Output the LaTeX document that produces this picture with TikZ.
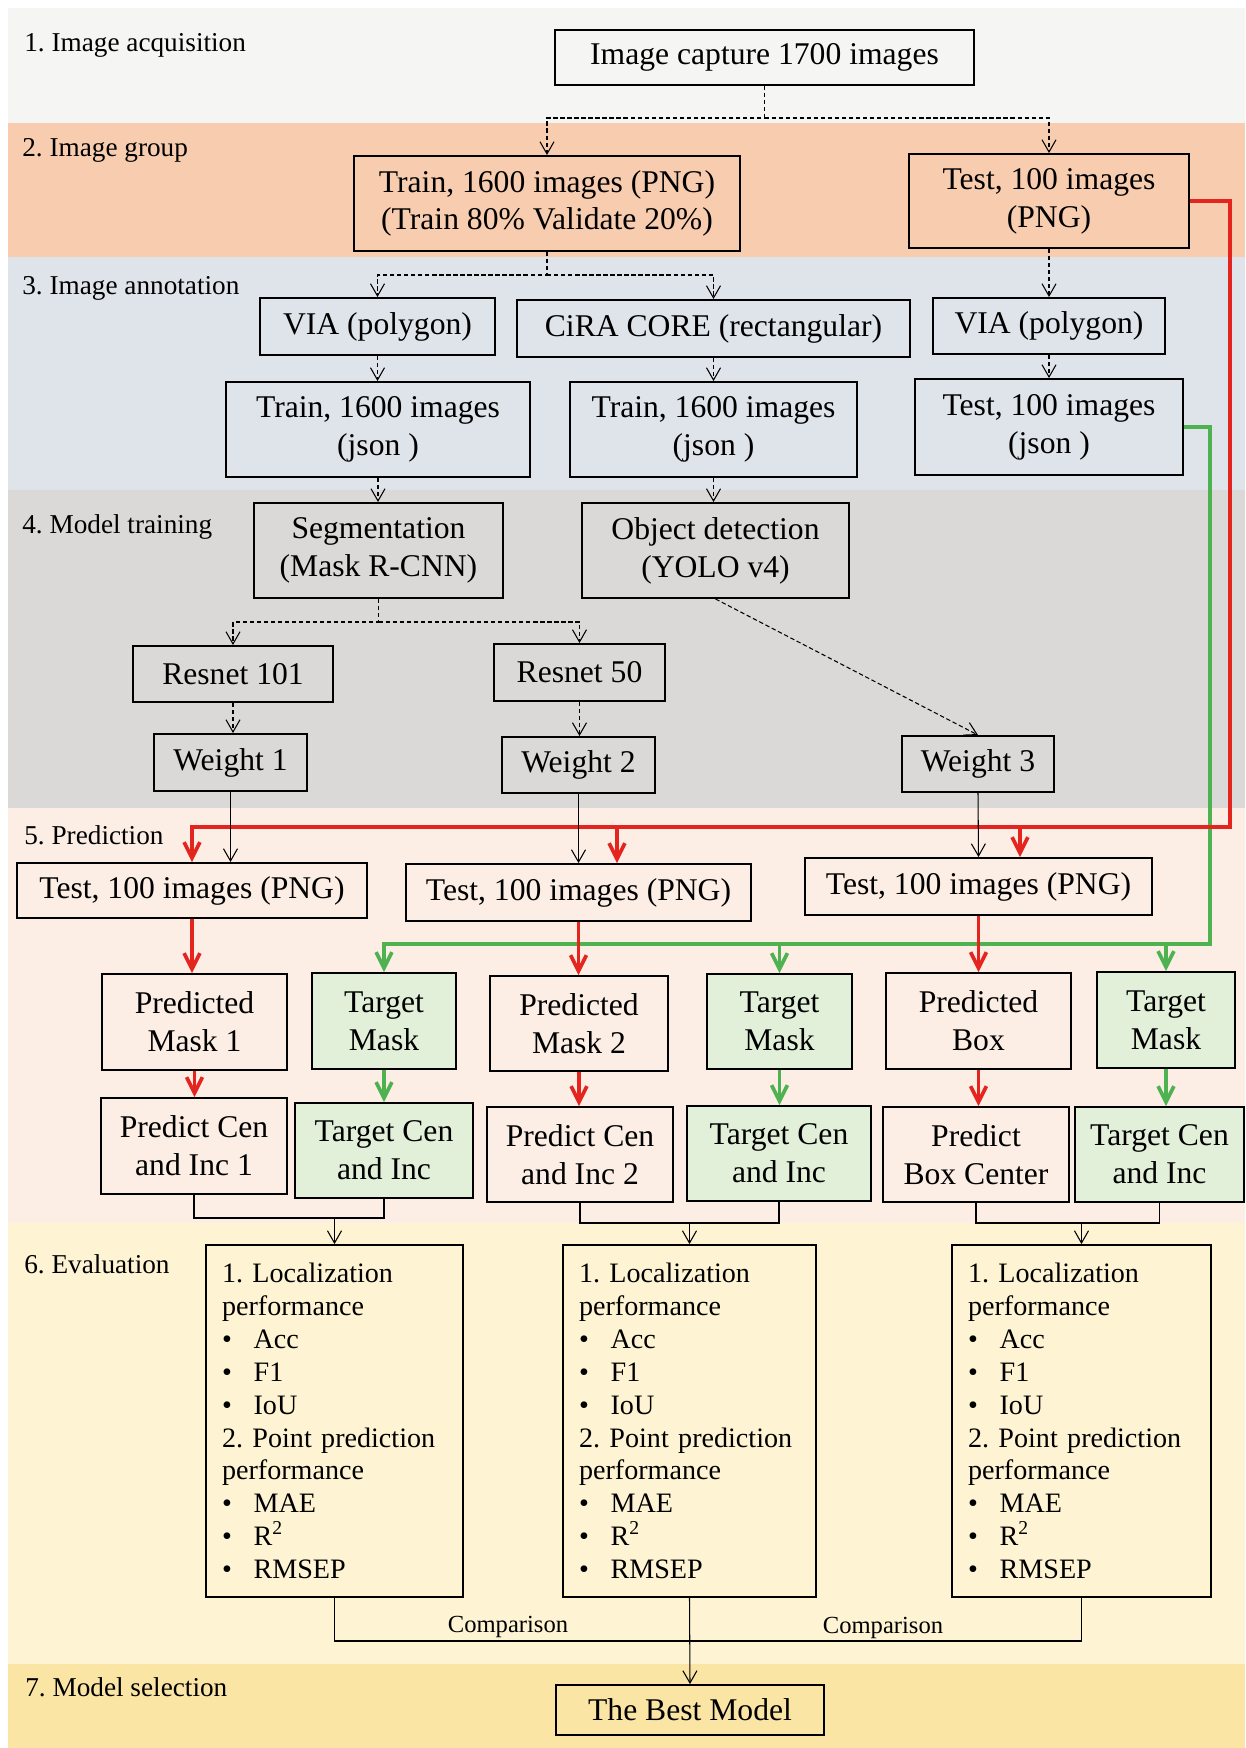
\documentclass[tikz,border=0pt]{standalone}
\usepackage{fontspec}
\setmainfont{Liberation Serif}
\usetikzlibrary{arrows.meta}
\frenchspacing

\definecolor{bandA}{RGB}{245,245,243}
\definecolor{bandB}{RGB}{248,205,175}
\definecolor{bandC}{RGB}{223,228,235}
\definecolor{bandD}{RGB}{219,216,216}
\definecolor{bandE}{RGB}{252,238,228}
\definecolor{bandF}{RGB}{254,243,210}
\definecolor{bandG}{RGB}{251,229,165}
\definecolor{tgtgreen}{RGB}{226,240,217}
\definecolor{redline}{RGB}{228,36,30}
\definecolor{greenline}{RGB}{78,178,80}

\newcommand{\evit}[1]{\makebox[18pt][l]{\textbullet}#1}
\newcommand{\evlist}{1. Localization\\performance\\\evit{Acc}\\\evit{F1}\\\evit{IoU}\\2. Point prediction\\performance\\\evit{MAE}\\\evit{R\textsuperscript{2}}\\\evit{RMSEP}}

\begin{document}
\begin{tikzpicture}[x=0.02cm, y=-0.02cm, >={Straight Barb[length=7pt,width=8pt]},
  wh/.style 2 args={minimum width=#1cm, minimum height=#2cm},
  box/.style={draw, line width=1.1pt, align=center, inner sep=0pt, font=\fontsize{18}{21.5}\selectfont},
  tgt/.style={box, fill=tgtgreen},
  evbox/.style={draw, line width=1.1pt, align=left, inner xsep=0.32cm, inner ysep=0pt, font=\fontsize{16}{18.7}\selectfont},
  lbl/.style={anchor=west, inner sep=0pt, font=\fontsize{15.5}{18}\selectfont},
  cmplbl/.style={inner sep=0pt, font=\fontsize{14}{16}\selectfont},
  dline/.style={->, line width=0.6pt, dash pattern=on 2.5pt off 1.5pt},
  sline/.style={line width=0.6pt},
  rline/.style={line width=2.1pt, color=redline, >={Straight Barb[length=9pt,width=9pt]}},
  gline/.style={line width=2.1pt, color=greenline, >={Straight Barb[length=9pt,width=9pt]}}]

\useasboundingbox (0,0) rectangle (1245,1748);
\fill[white] (0,0) rectangle (1245,1748);

% stage bands
\fill[bandA] (8,8) rectangle (1245,123);
\fill[bandB] (8,123) rectangle (1245,257);
\fill[bandC] (8,257) rectangle (1245,490);
\fill[bandD] (8,490) rectangle (1245,808);
\fill[bandE] (8,808) rectangle (1245,1223);
\fill[bandF] (8,1223) rectangle (1245,1664);
\fill[bandG] (8,1664) rectangle (1245,1748);

\node[lbl] (L1) at (24,45) {1. Image acquisition};
\node[lbl] (L2) at (22,150) {2. Image group};
\node[lbl] (L3) at (22,288) {3. Image annotation};
\node[lbl] (L4) at (22,527) {4. Model training};
\node[lbl] (L5) at (24,835) {5. Prediction};
\node[lbl] (L6) at (24,1264) {6. Evaluation};
\node[lbl] (L7) at (25,1687) {7. Model selection};

% 1. acquisition
\node[box, wh={8.38}{1.1}] (cap) at (764.5,57.5) {Image capture 1700 images};

% 2. group
\node[box, wh={7.72}{1.9}] (train) at (547,203.5) {Train, 1600 images (PNG)\\(Train 80\% Validate 20\%)};
\node[box, wh={5.6}{1.88}] (test) at (1049,201) {Test, 100 images\\(PNG)};

% 3. annotation
\node[box, wh={4.7}{1.14}] (viaA) at (377.5,326.5) {VIA (polygon)};
\node[box, wh={7.86}{1.14}] (cira) at (713.5,328.5) {CiRA CORE (rectangular)};
\node[box, wh={4.64}{1.12}] (viaB) at (1049,326) {VIA (polygon)};
\node[box, wh={6.08}{1.9}] (jsonA) at (378,429.5) {Train, 1600 images\\(json )};
\node[box, wh={5.74}{1.9}] (jsonB) at (713.5,429.5) {Train, 1600 images\\(json )};
\node[box, wh={5.36}{1.92}] (jsonC) at (1049,427) {Test, 100 images\\(json )};

% 4. training
\node[box, wh={4.98}{1.9}] (seg) at (378.5,550.5) {Segmentation\\(Mask R-CNN)};
\node[box, wh={5.34}{1.9}] (det) at (715.5,550.5) {Object detection\\(YOLO v4)};
\node[box, wh={4}{1.12}] (resA) at (233,674) {Resnet 101};
\node[box, wh={3.42}{1.14}] (resB) at (579.5,672.5) {Resnet 50};
\node[box, wh={3.06}{1.14}] (wA) at (230.5,762.5) {Weight 1};
\node[box, wh={3.06}{1.12}] (wB) at (578.5,765) {Weight 2};
\node[box, wh={3.04}{1.12}] (wC) at (978,764) {Weight 3};

% 5. prediction
\node[box, wh={7}{1.1}] (testA) at (192,890.5) {Test, 100 images (PNG)};
\node[box, wh={6.9}{1.14}] (testB) at (578.5,892.5) {Test, 100 images (PNG)};
\node[box, wh={6.94}{1.14}] (testC) at (978.5,886.5) {Test, 100 images (PNG)};

\node[box, wh={3.7}{1.92}] (pmA) at (194.5,1022) {Predicted\\Mask 1};
\node[tgt, wh={2.88}{1.92}] (tmA) at (384,1021) {Target\\Mask};
\node[box, wh={3.56}{1.9}] (pmB) at (579,1023.5) {Predicted\\Mask 2};
\node[tgt, wh={2.9}{1.9}] (tmB) at (779.5,1021.5) {Target\\Mask};
\node[box, wh={3.7}{1.92}] (pbox) at (978.5,1021) {Predicted\\Box};
\node[tgt, wh={2.76}{1.92}] (tmC) at (1166,1020) {Target\\Mask};

\node[box, wh={3.72}{1.92}] (pcA) at (194,1146) {Predict Cen\\and Inc 1};
\node[tgt, wh={3.56}{1.9}] (tcA) at (384,1150.5) {Target Cen\\and Inc};
\node[box, wh={3.72}{1.9}] (pcB) at (580,1154.5) {Predict Cen\\and Inc 2};
\node[tgt, wh={3.68}{1.9}] (tcB) at (779,1153.5) {Target Cen\\and Inc};
\node[box, wh={3.72}{1.9}] (pbc) at (976,1154.5) {Predict\\Box Center};
\node[tgt, wh={3.38}{1.9}] (tcC) at (1159.5,1154.5) {Target Cen\\and Inc};

% 6. evaluation
\node[evbox, text width=4.5cm, minimum height=7.04cm] (evA) at (334.5,1421) {\evlist};
\node[evbox, text width=4.42cm, minimum height=7.04cm] (evB) at (689.5,1421) {\evlist};
\node[evbox, text width=4.54cm, minimum height=7.04cm] (evC) at (1081.5,1421) {\evlist};

% 7. selection
\node[box, fill=bandG, wh={5.36}{1.0}] (best) at (690,1710) {The Best Model};

% dashed arrows
\coordinate (sp1) at (764.5,118);
\coordinate (sp2) at (547,275);
\coordinate (sp3) at (378.5,622);
\draw[dline] (cap.south) -- (sp1) -| (train.north);
\draw[dline] (sp1) -| (test.north);
\draw[dline] (train.south) -- (sp2) -| (viaA.north);
\draw[dline] (sp2) -| (cira.north);
\draw[dline] (test.south) -- (viaB.north);
\draw[dline] (viaA.south) -- (viaA.south |- jsonA.north);
\draw[dline] (cira.south) -- (jsonB.north);
\draw[dline] (viaB.south) -- (jsonC.north);
\draw[dline] (jsonA.south) -- (jsonA.south |- seg.north);
\draw[dline] (jsonB.south) -- (jsonB.south |- det.north);
\draw[dline] (seg.south) -- (sp3) -| (resA.north);
\draw[dline] (sp3) -| (resB.north);
\draw[dline] (resA.south) -- (resA.south |- wA.north);
\draw[dline] (resB.south) -- (resB.south |- wB.north);
\draw[dline] (det.south) -- (wC.north);

% green path
\coordinate (gA) at (1210,427);
\coordinate (gB) at (1210,944);
\coordinate (gC) at (779.5,944);
\coordinate (gD) at (1166,944);
\draw[gline,->] (jsonC.east) -- (gA) -- (gB) -| (tmA.north);
\draw[gline,->] (gC) -- (tmB.north);
\draw[gline,->] (gD) -- (tmC.north);
\draw[gline,->] (tmA.south) -- (tcA.north);
\draw[gline,->] (tmB.south) -- (tmB.south |- tcB.north);
\draw[gline,->] (tmC.south) -- (tmC.south |- tcC.north);

% red path
\coordinate (rA) at (1230,201);
\coordinate (rB) at (1230,827);
\coordinate (rC) at (617,827);
\coordinate (rD) at (1020,827);
\draw[rline,->] (test.east) -- (rA) -- (rB) -| (testA.north);
\draw[rline,->] (rC) -- (rC |- testB.north);
\draw[rline,->] (rD) -- (rD |- testC.north);
\draw[rline,->] (testA.south) -- (testA.south |- pmA.north);
\draw[rline,->] (testB.south) -- (testB.south |- pmB.north);
\draw[rline,->] (testC.south) -- (testC.south |- pbox.north);
\draw[rline,->] (pmA.south) -- (pmA.south |- pcA.north);
\draw[rline,->] (pmB.south) -- (pmB.south |- pcB.north);
\draw[rline,->] (pbox.south) -- (pbox.south |- pbc.north);

% weights to test sets
\draw[sline,->] (wA.south) -- (wA.south |- testA.north);
\draw[sline,->] (wB.south) -- (testB.north);
\draw[sline,->] (wC.south) -- (testC.north);

% merging to evaluation
\coordinate (mA) at (334.5,1218);
\coordinate (mB) at (689.5,1223);
\coordinate (mC) at (1081.5,1223);
\draw[sline] (pcA.south) -- (pcA.south |- mA) -| (tcA.south);
\draw[sline] (pcB.south) -- (pcB.south |- mB) -| (tcB.south);
\draw[sline] (pbc.south) -- (pbc.south |- mC) -| (tcC.south);
\draw[sline,->] (mA) -- (evA.north);
\draw[sline,->] (mB) -- (evB.north);
\draw[sline,->] (mC) -- (evC.north);

% comparison
\coordinate (cmp) at (689.5,1641);
\draw[sline] (evA.south) -- (evA.south |- cmp) -| (evC.south);
\draw[sline,->] (evB.south) -- (best.north);
\node[cmplbl] (cmpA) at (508,1627) {Comparison};
\node[cmplbl] (cmpB) at (883,1628) {Comparison};

\end{tikzpicture}
\end{document}
